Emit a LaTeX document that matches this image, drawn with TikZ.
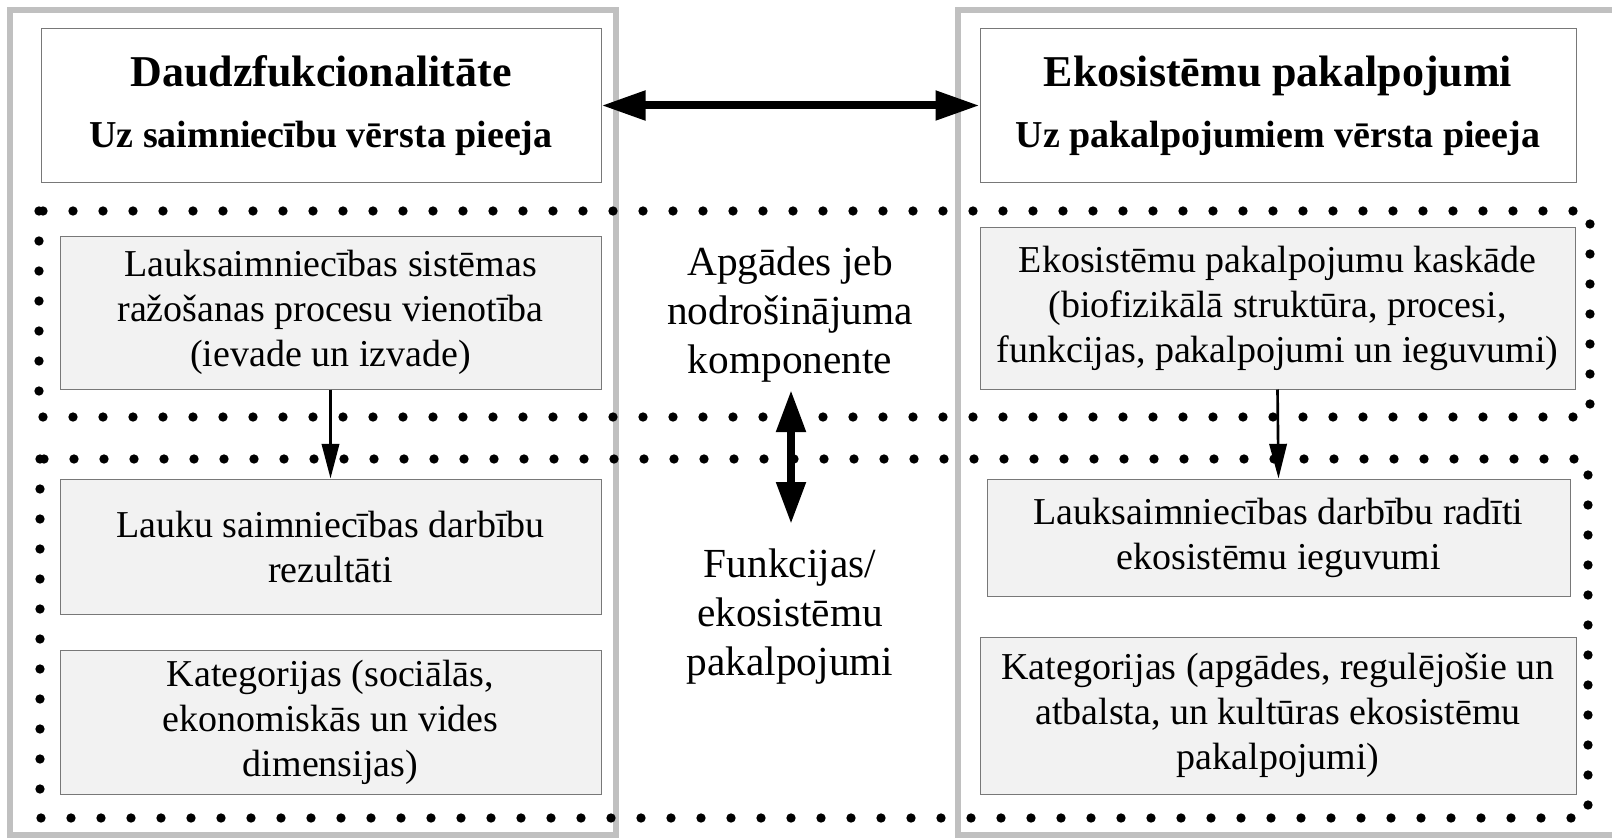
\documentclass[tikz,border=0pt]{standalone}
\usepackage{fontspec}
\setmainfont{Liberation Serif}
\usetikzlibrary{arrows.meta}

\definecolor{frameGray}{RGB}{192,192,192}
\definecolor{boxFill}{RGB}{242,242,242}
\definecolor{boxLine}{RGB}{120,120,120}

\tikzset{every picture/.style={line width=0.75pt}}
\tikzset{
  headbox/.style={draw=boxLine, fill=white, align=center, inner sep=0pt,
    font=\fontsize{28.5}{34}\selectfont\bfseries},
  itembox/.style={draw=boxLine, fill=boxFill, align=center, inner sep=0pt,
    font=\fontsize{28.5}{33.75}\selectfont},
  midtext/.style={align=center, inner sep=0pt, font=\fontsize{31}{36.75}\selectfont},
  dotline/.style={line width=7pt, line cap=round, dash pattern=on 0pt off 22.5pt},
  grayframe/.style={draw=frameGray, line width=4pt},
}

\begin{document}
\begin{tikzpicture}[x=0.75pt,y=0.75pt,yscale=-1,xscale=1]
\useasboundingbox (0,0) rectangle (1612,838);

%Frames
\draw  [grayframe]  (10,10) rectangle (616,835) ;
\draw  [grayframe]  (1630,10) -- (958,10) -- (958,835) -- (1630,835) ;

%Dotted Regions
\draw  [dotline]  (39,211) rectangle (1590,417) ;
\draw  [dotline]  (40,459) rectangle (1588,818) ;

% Head Nodes
\draw (321,105.5) node [headbox, minimum width=420pt, minimum height=114.75pt] (multi)
  {{\fontsize{33}{40}\selectfont Daudzfukcionalitāte}\\[12pt]Uz saimniecību vērsta pieeja};
\draw (1278,105.5) node [headbox, minimum width=447pt, minimum height=114.75pt] (eco)
  {{\fontsize{33}{40}\selectfont Ekosistēmu pakalpojumi}\\[12pt]Uz pakalpojumiem vērsta pieeja};

% Left Nodes
\draw (330.5,312.5) node [itembox, minimum width=405.75pt, minimum height=114.75pt] (sys)
  {Lauksaimniecības sistēmas\\ražošanas procesu vienotība\\(ievade un izvade)};
\draw (330.5,546.5) node [itembox, minimum width=405.75pt, minimum height=101.25pt] (res)
  {Lauku saimniecības darbību\\rezultāti};
\draw (330.5,722) node [itembox, minimum width=405.75pt, minimum height=108pt] (catl)
  {Kategorijas (sociālās,\\ekonomiskās un vides\\dimensijas)};

% Right Nodes
\draw (1277.5,308) node [itembox, minimum width=446.25pt, minimum height=121.5pt] (cascade)
  {Ekosistēmu pakalpojumu kaskāde\\(biofizikālā struktūra, procesi,\\funkcijas, pakalpojumi un ieguvumi)};
\draw (1278.5,537.5) node [itembox, minimum width=437.25pt, minimum height=87.75pt] (benefit)
  {Lauksaimniecības darbību radīti\\ekosistēmu ieguvumi};
\draw (1278,715.5) node [itembox, minimum width=447pt, minimum height=117.75pt] (catr)
  {Kategorijas (apgādes, regulējošie un\\atbalsta, un kultūras ekosistēmu\\pakalpojumi)};

% Middle Text
\draw (790,315) node [midtext] (supply) {Apgādes jeb\\nodrošinājuma\\komponente};
\draw (790,617) node [midtext] (func) {Funkcijas/\\ekosistēmu\\pakalpojumi};
\coordinate (vtop) at (791,390);
\coordinate (vbot) at (791,524);

%Arrows
\draw  [line width=6pt, {Triangle[length=33pt,width=21pt]}-{Triangle[length=33pt,width=21pt]}]  (multi.east) -- (eco.west) ;
\draw  [line width=6pt, {Triangle[length=31.5pt,width=21pt]}-{Triangle[length=31.5pt,width=21pt]}]  (vtop) -- (vbot) ;
\draw  [line width=2pt, -{Triangle[length=26pt,width=13pt]}]  (sys.south) -- (res.north) ;
\draw  [line width=2pt, -{Triangle[length=26pt,width=13pt]}]  (cascade.south) -- (benefit.north) ;

\end{tikzpicture}
\end{document}
